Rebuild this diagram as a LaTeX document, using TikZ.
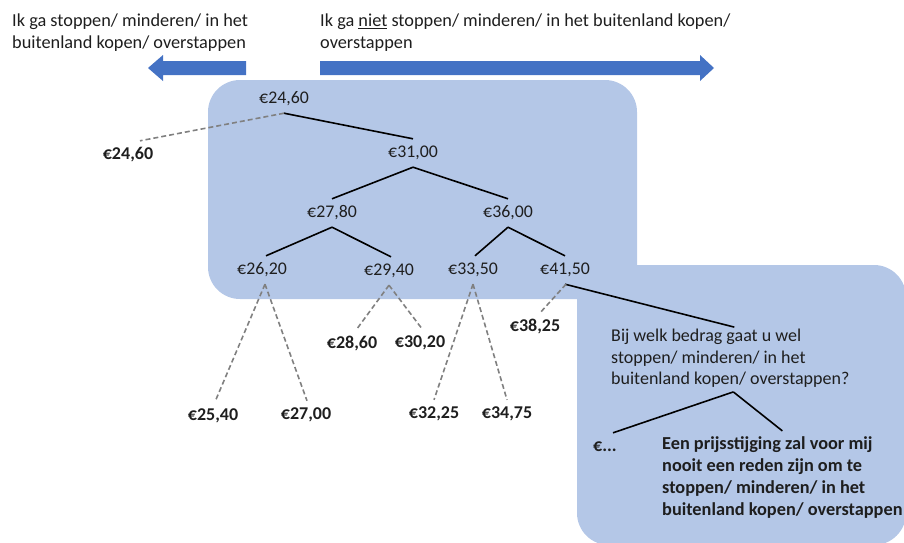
\documentclass[tikz,border=0pt]{standalone}
\usepackage{fontspec}
\setmainfont{Carlito}
\usepackage{xcolor}
\definecolor{arrowblue}{HTML}{4472C4}
\definecolor{boxblue}{HTML}{B4C7E7}
\definecolor{dashgrey}{HTML}{808080}
\definecolor{txt}{HTML}{1E1E1E}
\begin{document}
\begin{tikzpicture}[x=1pt,y=-1pt,
  every node/.style={font=\fontsize{18.3}{21.5}\selectfont, text=txt},
  price/.style={inner sep=2pt, minimum height=28pt, font=\fontsize{17.8}{21.5}\selectfont},
  bprice/.style={price, font=\fontsize{18}{21.5}\selectfont\bfseries},
  solidline/.style={draw=black, line width=1.6pt},
  dashline/.style={draw=dashgrey, line width=1.6pt, dash pattern=on 5pt off 3pt},
  bluebox/.style={fill=boxblue, rounded corners=32pt},
  header/.style={align=left, anchor=west, inner sep=0pt}
]
\useasboundingbox (0,0) rectangle (904,542);
% background boxes
\fill[bluebox] (208,80) rectangle (637,299);
\fill[bluebox] (577,265) rectangle (906,545);
% arrows
\fill[arrowblue] (246,61) -- (163,61) -- (163,55) -- (148,68) -- (163,81) -- (163,75) -- (246,75) -- cycle;
\fill[arrowblue] (320,61) -- (700,61) -- (700,55) -- (714,68) -- (700,81) -- (700,75) -- (320,75) -- cycle;
% headers
\node[header] (hl) at (12,32.5) {Ik ga stoppen/ minderen/ in het\\buitenland kopen/ overstappen};
\node[header] (hr) at (320,32.5) {Ik ga \underline{niet} stoppen/ minderen/ in het buitenland kopen/\\overstappen};
% tree nodes
\node[price] (a) at (284,99) {€24,60};
\node[price] (b) at (413,153) {€31,00};
\node[price] (c) at (332,213) {€27,80};
\node[price] (d) at (508,213) {€36,00};
\node[price] (e) at (262,270) {€26,20};
\node[price] (f) at (389,271) {€29,40};
\node[price] (g) at (473,270) {€33,50};
\node[price] (h) at (565,270) {€41,50};
% bold leaves
\node[bprice] (la) at (128,155) {€24,60};
\node[bprice] (le1) at (213,416) {€25,40};
\node[bprice] (le2) at (306,415) {€27,00};
\node[bprice] (lf1) at (352,343) {€28,60};
\node[bprice] (lf2) at (420,343) {€30,20};
\node[bprice] (lg1) at (434,414) {€32,25};
\node[bprice] (lg2) at (507,414) {€34,75};
\node[bprice] (lh) at (535,326) {€38,25};
% question
\node[align=left, anchor=west, inner sep=4pt, font=\fontsize{18}{21.5}\selectfont] (q) at (607,358.5) {Bij welk bedrag gaat u wel\\stoppen/ minderen/ in het\\buitenland kopen/ overstappen?};
\node[bprice] (qa) at (605,447) {€...};
\node[align=left, anchor=west, inner sep=6pt, font=\fontsize{18.3}{21.7}\selectfont\bfseries] (qb) at (656,477.5) {Een prijsstijging zal voor mij\\nooit een reden zijn om te\\stoppen/ minderen/ in het\\buitenland kopen/ overstappen};
% solid connectors
\draw[solidline] (a.south) -- (b.north);
\draw[solidline] (b.south) -- (c.north);
\draw[solidline] (b.south) -- (d.north);
\draw[solidline] (c.south) -- ([xshift=4pt]e.north);
\draw[solidline] (c.south) -- ([xshift=2pt]f.north);
\draw[solidline] (d.south) -- ([xshift=2pt]g.north);
\draw[solidline] (d.south) -- (h.north);
\draw[solidline] (h.south) -- ([xshift=4pt,yshift=-2pt]q.north);
\draw[solidline] ([xshift=3pt]q.south) -- ([xshift=8pt]qa.north);
\draw[solidline] ([xshift=3pt]q.south) -- (qb.north);
% dashed connectors
\draw[dashline] (a.south) -- ([xshift=12pt]la.north);
\draw[dashline] ([xshift=3pt]e.south) -- ([xshift=2pt]le1.north);
\draw[dashline] ([xshift=3pt]e.south) -- ([xshift=1pt]le2.north);
\draw[dashline] (f.south) -- ([xshift=5pt]lf1.north);
\draw[dashline] (f.south) -- ([xshift=2pt]lf2.north);
\draw[dashline] (g.south) -- (lg1.north);
\draw[dashline] (g.south) -- (lg2.north);
\draw[dashline] ([xshift=1pt]h.south) -- ([xshift=6pt]lh.north);
\end{tikzpicture}
\end{document}
